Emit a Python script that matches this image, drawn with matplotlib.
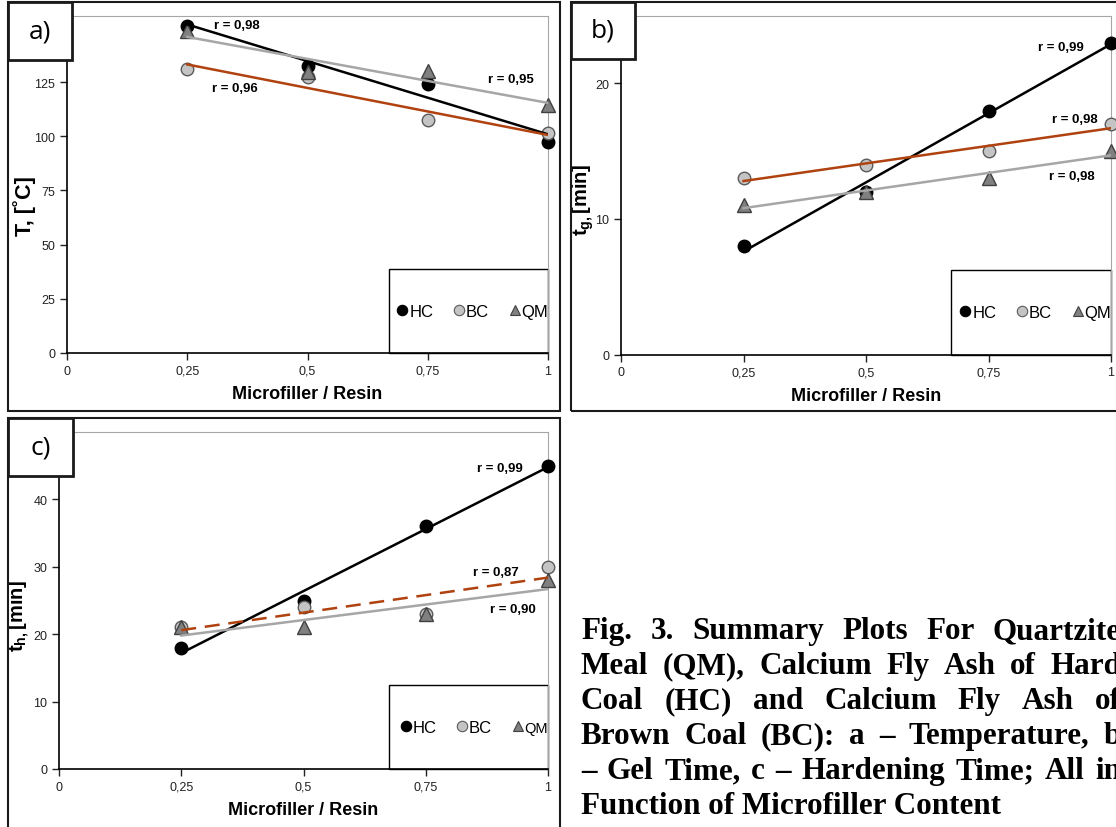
import numpy as np
import matplotlib
matplotlib.use("Agg")
import matplotlib.pyplot as plt
from matplotlib.patches import Rectangle
from matplotlib.lines import Line2D

plt.rcParams["font.family"] = ["Liberation Sans", "DejaVu Sans"]
plt.rcParams["mathtext.fontset"] = "custom"
plt.rcParams["mathtext.rm"] = "Liberation Sans:bold"
plt.rcParams["mathtext.bf"] = "Liberation Sans:bold"
plt.rcParams["mathtext.it"] = "Liberation Sans:bold"

# ── data ─────────────────────────────────────────────
ratio = [0.25, 0.5, 0.75, 1.0]
xtick_vals = [0, 0.25, 0.5, 0.75, 1.0]
xtick_labels = ["0", "0,25", "0,5", "0,75", "1"]

temp_hc = [151, 132.5, 124, 97.5]
temp_bc = [131, 127.5, 107.5, 101.5]
temp_qm = [148.5, 129.5, 130, 114.5]
temp_r = ["r = 0,98", "r = 0,96", "r = 0,95"]

gel_hc = [8, 12, 18, 23]
gel_bc = [13, 14, 15, 17]
gel_qm = [11, 12, 13, 15]
gel_r = ["r = 0,99", "r = 0,98", "r = 0,98"]

hard_hc = [18, 25, 36, 45]
hard_bc = [21, 24, 23, 30]
hard_qm = [21, 21, 23, 28]
hard_r = ["r = 0,99", "r = 0,87", "r = 0,90"]

caption = ["Fig. 3. Summary Plots For Quartzite",
           "Meal (QM), Calcium Fly Ash of Hard",
           "Coal (HC) and Calcium Fly Ash of",
           "Brown Coal (BC): a \u2013 Temperature, b",
           "\u2013 Gel Time, c \u2013 Hardening Time; All in",
           "Function of Microfiller Content"]

W, H = 1116, 828
fig = plt.figure(figsize=(W / 100, H / 100), dpi=100)

BROWN = "#b0420f"
GRAY = "#a6a6a6"
styles = {
    "HC": dict(marker="o", mfc="black", mec="black", ms=9),
    "BC": dict(marker="o", mfc="#c4c4c4", mec="#5a5a5a", ms=9),
    "QM": dict(marker="^", mfc="#808080", mec="#404040", ms=10.5),
}


def px_rect(x0, y0, x1, y1, lw):
    fig.add_artist(Rectangle((x0 / W, 1 - y1 / H), (x1 - x0) / W, (y1 - y0) / H,
                             transform=fig.transFigure, fill=False,
                             edgecolor="#1a1a1a", linewidth=lw, clip_on=False))


def tag_box(x0, y0, x1, y1, label):
    fig.add_artist(Rectangle((x0 / W, 1 - y1 / H), (x1 - x0) / W, (y1 - y0) / H,
                             transform=fig.transFigure, facecolor="white",
                             edgecolor="#1a1a1a", linewidth=2, zorder=5))
    fig.text((x0 + x1) / 2 / W, 1 - (y0 + y1) / 2 / H, label, fontsize=19,
             family="Open Sans", ha="center", va="center", zorder=6)


def panel(rect, hc, bc, qm, ylim, yticks, ylabel, ylab_xy, rtexts, rpos,
          bc_dash, legpos, qm_fs=12, ylab_fs=14.5):
    ax = fig.add_axes(rect)
    xs = np.array(ratio)
    xx = np.array([0.25, 1.0])
    for name, ys in (("HC", hc), ("BC", bc), ("QM", qm)):
        ax.plot(xs, ys, linestyle="none", clip_on=False, zorder=3,
                markeredgewidth=1, **styles[name])
    for ys, col, ls in ((hc, "black", "-"), (bc, BROWN, "--" if bc_dash else "-"),
                        (qm, GRAY, "-")):
        k, b = np.polyfit(xs, ys, 1)
        ax.plot(xx, k * xx + b, color=col, lw=1.8, ls=ls, zorder=4,
                dashes=(6, 3.5) if ls == "--" else (None, None))
    for txt, (tx, ty) in zip(rtexts, rpos):
        ax.text(tx, ty, txt, fontsize=9.5, fontweight="bold", va="center")
    ax.set_xlim(0, 1)
    ax.set_ylim(*ylim)
    ax.set_xticks(xtick_vals)
    ax.set_xticklabels(xtick_labels)
    ax.set_yticks(yticks)
    ax.tick_params(direction="out", length=5, labelsize=9, colors="#222222",
                   width=1)
    for s in ("top", "right"):
        ax.spines[s].set_color(GRAY)
    for s in ("left", "bottom"):
        ax.spines[s].set_color("black")
        ax.spines[s].set_linewidth(1.2)
    ax.set_xlabel("Microfiller / Resin", fontsize=13, fontweight="bold", labelpad=6)
    ax.set_ylabel(ylabel, fontsize=ylab_fs, fontweight="bold")
    ax.yaxis.set_label_coords(*ylab_xy)
    ax.add_patch(Rectangle((legpos, 0), 1 - legpos, 0.25, transform=ax.transAxes,
                           facecolor="white", edgecolor="black", lw=1, zorder=2,
                           clip_on=False))
    handles = [Line2D([], [], linestyle="none", markeredgewidth=0.8,
                      **dict(styles[n], ms=7.5)) for n in ("HC", "BC", "QM")]
    leg = ax.legend(handles, ["HC", "BC", "QM"], ncol=3, frameon=False,
                    loc="center right", bbox_to_anchor=(1.0, 0.123),
                    fontsize=12, handlelength=0.6, handletextpad=0.1,
                    columnspacing=1.25, borderpad=0, borderaxespad=0)
    leg.get_texts()[2].set_fontsize(qm_fs)
    return ax


# ── a) temperature ──────────────────────────────────
panel([67 / W, 1 - 354 / H, 481 / W, 337 / H], temp_hc, temp_bc, temp_qm,
      (0, 155.5), [0, 25, 50, 75, 100, 125], "T, [\u02daC]", (-0.064, 0.44),
      temp_r, [(0.305, 151.5), (0.302, 122.5), (0.875, 126.5)], False, 0.669,
      ylab_fs=15.5)
# ── b) gel time ─────────────────────────────────────
panel([621 / W, 1 - 355.5 / H, 490 / W, 338.8 / H], gel_hc, gel_bc, gel_qm,
      (0, 25), [0, 10, 20], "t$_{\\mathbf{g,}}$[min]", (-0.05, 0.46),
      gel_r, [(0.85, 22.7), (0.88, 17.4), (0.873, 13.2)], False, 0.674)
# ── c) hardening time ───────────────────────────────
panel([59 / W, 1 - 770 / H, 489 / W, 337 / H], hard_hc, hard_bc, hard_qm,
      (0, 50), [0, 10, 20, 30, 40], "t$_{\\mathbf{h,}}$[min]", (-0.055, 0.457),
      hard_r, [(0.855, 44.7), (0.847, 29.3), (0.882, 23.7)], True, 0.675,
      qm_fs=10.5)

px_rect(8, 3, 560, 412, 1.5)
px_rect(571, 3, 1122, 412, 1.5)
px_rect(8, 419, 560, 832, 1.5)
tag_box(8, 3, 72, 61, "a)")
tag_box(571, 3, 635, 60, "b)")
tag_box(8, 419, 73, 477, "c)")

# ── caption (justified, runs past the right edge like the source) ──
renderer = fig.canvas.get_renderer()
left_px, right_px = 581, 1121
for i, line in enumerate(caption):
    y = 1 - (639 + 35 * i) / H
    kw = dict(fontsize=22.4, fontweight="bold", family="Liberation Serif",
              va="baseline", ha="left")
    if i == len(caption) - 1:
        fig.text(left_px / W, y, line, **kw)
        continue
    words = line.split()
    texts = [fig.text(0, y, w, **kw) for w in words]
    widths = [t.get_window_extent(renderer).width for t in texts]
    gap = max((right_px - left_px - sum(widths)) / (len(words) - 1), 5)
    x = left_px
    for t, w in zip(texts, widths):
        t.set_x(x / W)
        x += w + gap

fig.savefig("out.png", dpi=100)
